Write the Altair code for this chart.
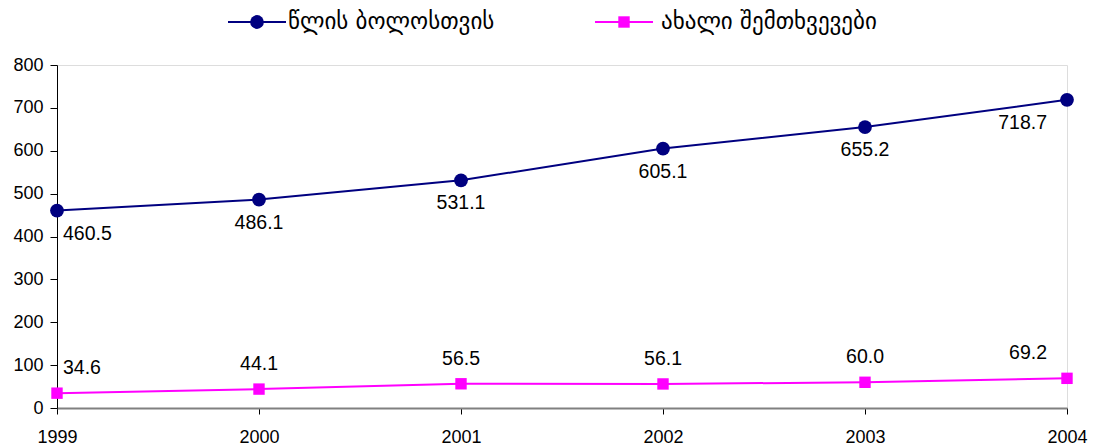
import altair as alt
import pandas as pd

years = [1999, 2000, 2001, 2002, 2003, 2004]
year_end = [460.5, 486.1, 531.1, 605.1, 655.2, 718.7]
new_cases = [34.6, 44.1, 56.5, 56.1, 60.0, 69.2]
series_names = ["წლის ბოლოსთვის", "ახალი შემთხვევები"]
y_ticks = [0, 100, 200, 300, 400, 500, 600, 700, 800]

NAVY = "#000080"
MAGENTA = "#FF00FF"
FONT = "Liberation Sans"

df1 = pd.DataFrame({"year": years, "value": year_end, "label": [f"{v:.1f}" for v in year_end]})
df2 = pd.DataFrame({"year": years, "value": new_cases, "label": [f"{v:.1f}" for v in new_cases]})

W, H = 1010, 343

x = alt.X("year:Q", scale=alt.Scale(domain=[1999, 2004], nice=False, zero=False),
          axis=alt.Axis(values=years, format="d", title=None, grid=False,
                        domainColor="#808080", domainWidth=2, tickColor="#000000",
                        tickSize=6, labelPadding=14, labelFontSize=18, labelFont=FONT,
                        labelColor="#000000", labelFlush=False, labelOverlap=False,
                        labelBound=False))
y = alt.Y("value:Q", scale=alt.Scale(domain=[0, 800], nice=False),
          axis=alt.Axis(values=y_ticks, title=None, grid=False, domainColor="#000000",
                        tickColor="#000000", tickSize=7, labelPadding=7,
                        labelFontSize=18, labelFont=FONT, labelColor="#000000",
                        labelFlush=False, labelOverlap=False))

LBL = 19.5

def series(df, color, shape, size, dy):
    base = alt.Chart(df).encode(x=x, y=y)
    line = base.mark_line(color=color, strokeWidth=2)
    pts = base.mark_point(shape=shape, filled=True, color=color, size=size, opacity=1)
    first = alt.Chart(df).transform_filter(alt.datum.year == 1999).mark_text(
        align="left", dx=6, dy=dy, fontSize=LBL, font=FONT, color="#000000").encode(x=x, y=y, text="label:N")
    mid = alt.Chart(df).transform_filter((alt.datum.year > 1999) & (alt.datum.year < 2004)).mark_text(
        align="center", dy=dy, fontSize=LBL, font=FONT, color="#000000").encode(x=x, y=y, text="label:N")
    last = alt.Chart(df).transform_filter(alt.datum.year == 2004).mark_text(
        align="right", dx=-20, dy=dy, fontSize=LBL, font=FONT, color="#000000").encode(x=x, y=y, text="label:N")
    return [line, pts, first, mid, last]

layers = series(df1, NAVY, "circle", 190, 23) + series(df2, MAGENTA, "square", 130, -25)

# custom legend
leg_df = pd.DataFrame({"name": series_names})
def legend_item(i, color, shape, size, x0, tx):
    d = leg_df.iloc[[i]]
    ly = -43
    r = alt.Chart(d).mark_rule(color=color, strokeWidth=2).encode(
        x=alt.value(x0), x2=alt.value(x0 + 58), y=alt.value(ly))
    p = alt.Chart(d).mark_point(shape=shape, filled=True, color=color, size=size, opacity=1).encode(
        x=alt.value(x0 + 29), y=alt.value(ly))
    t = alt.Chart(d).mark_text(align="left", baseline="middle", fontSize=23, font="DejaVu Sans",
                               color="#000000").encode(
        x=alt.value(x0 + tx), y=alt.value(ly), text="name:N")
    return [r, p, t]

layers += legend_item(0, NAVY, "circle", 190, 171, 60) + legend_item(1, MAGENTA, "square", 130, 538, 66)

chart = alt.layer(*layers).properties(
    width=W, height=H,
    autosize=alt.AutoSizeParams(type="none"),
    padding={"left": 49, "top": 57, "right": 23, "bottom": 40},
).configure_view(stroke=None).configure(background="white")

chart.save("out.html", embed_options={"renderer": "svg", "actions": False})
